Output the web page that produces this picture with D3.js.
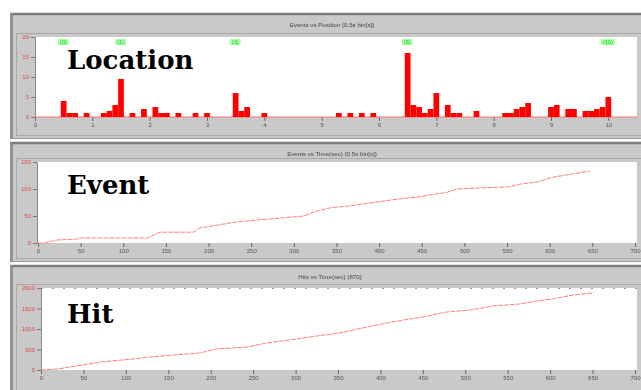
<!DOCTYPE html>
<html>
<head>
<meta charset="utf-8">
<script src="https://cdn.jsdelivr.net/npm/d3@7"></script>
<style>
  body { margin: 0; background: #fff; }
  svg { display: block; }
</style>
</head>
<body>
<svg id="chart" width="641" height="390"></svg>
<script>
// position histogram (bin centre, count)
const posBins = [0.5, 0.6, 0.7, 0.9, 1.2, 1.3, 1.4, 1.5, 1.7, 1.9, 2.1, 2.2, 2.3, 2.5, 2.8, 3.0,
  3.5, 3.6, 3.7, 4.0, 5.3, 5.5, 5.7, 5.9, 6.5, 6.6, 6.7, 6.8, 6.9, 7.0, 7.2, 7.3, 7.4, 7.7,
  8.2, 8.3, 8.4, 8.5, 8.6, 9.0, 9.1, 9.3, 9.4, 9.6, 9.7, 9.8, 9.9, 10.0];
const posCounts = [4, 1, 1, 1, 1, 1.5, 3, 9.5, 1, 2, 2.5, 1, 1, 1, 1, 1,
  6, 1.5, 2.5, 1, 1, 1, 1, 1, 16, 3, 2.5, 1, 2, 6, 3, 1, 1, 1.5,
  1, 1, 2, 2.5, 3.5, 2.5, 3, 2, 2, 1.5, 1.5, 2, 2.5, 5];
const posTicks = [0, 1, 2, 3, 4, 5, 6, 7, 8, 9, 10];
const posTicksY = [0, 5, 10, 15, 20];
const peakPos = [0.5, 1.5, 3.5, 6.5, 10];
const peakLabels = ["(0)", "(1)", "(3)", "(6)", "(10)"];

// cumulative events vs time
const eventTimes = [0, 8, 22, 46, 49, 128, 143, 182, 190, 210, 233, 260, 284, 311, 327, 342, 366,
  389, 416, 444, 460, 480, 491, 518, 553, 565, 585, 604, 627, 647];
const eventCounts = [0, 0, 5.5, 7.4, 9.3, 9.3, 20, 20, 28, 33, 39, 43, 46, 50, 59, 65, 69,
  74, 80, 85, 89, 94, 100, 102, 104, 109, 113, 122, 128, 133];

// cumulative hits vs time
const hitTimes = [0, 19, 42, 70, 108, 128, 156, 187, 207, 243, 266, 293, 325, 352, 368, 396,
  408, 427, 450, 478, 506, 533, 564, 585, 603, 627, 651];
const hitCounts = [0, 24, 98, 195, 268, 317, 366, 415, 512, 561, 659, 732, 830, 903, 976, 1098,
  1147, 1220, 1293, 1415, 1464, 1562, 1610, 1684, 1732, 1830, 1879];

const timeTicks = d3.range(0, 701, 50);
const eventTicksY = [0, 50, 100, 150];
const hitTicksY = [0, 500, 1000, 1500, 2000];

const titles = ["Events vs Position (0.5s bin[s])", "Events vs Time(sec) (0.5s bin[s])", "Hits vs Time(sec) (870)"];
const bigLabels = ["Location", "Event", "Hit"];

const svg = d3.select("#chart");

const blur = svg.append("defs").append("filter").attr("id", "soft");
blur.append("feGaussianBlur").attr("stdDeviation", 0.45);

const panels = [
  { top: 13, bottom: 139, px0: 35, px1: 637, py0: 37, py1: 117, xr: [35, 637], xd: [0, 10.5], yd: [0, 20], xt: posTicks, yt: posTicksY },
  { top: 142, bottom: 262, px0: 37, px1: 637, py0: 162, py1: 243, xr: [38, 635], xd: [0, 700], yd: [0, 150], xt: timeTicks, yt: eventTicksY },
  { top: 265, bottom: 395, px0: 41, px1: 637, py0: 288, py1: 370, xr: [41, 635], xd: [0, 700], yd: [0, 2000], xt: timeTicks, yt: hitTicksY }
];

panels.forEach((p, i) => {
  const g = svg.append("g").attr("filter", "url(#soft)");

  // window frame
  g.append("rect").attr("x", 10).attr("y", p.top).attr("width", 640).attr("height", p.bottom - p.top)
    .attr("fill", "#c9c9c9");
  g.append("line").attr("x1", 10).attr("x2", 641).attr("y1", p.top + 1).attr("y2", p.top + 1)
    .attr("stroke", "#7d7d7d").attr("stroke-width", 2.5);
  g.append("line").attr("x1", 11.5).attr("x2", 11.5).attr("y1", p.top).attr("y2", p.bottom)
    .attr("stroke", "#8a8a8a").attr("stroke-width", 2.5);
  g.append("line").attr("x1", 10).attr("x2", 641).attr("y1", p.bottom - 0.5).attr("y2", p.bottom - 0.5)
    .attr("stroke", "#9a9a9a");
  g.append("rect").attr("x", 16.5).attr("y", p.py0 - 3.5).attr("width", 630).attr("height", p.bottom - p.py0)
    .attr("fill", "none").attr("stroke", "#a8a8a8");

  g.append("text").attr("x", (i == 2 ? 330 : 332)).attr("y", p.top + 14)
    .attr("text-anchor", "middle").attr("font-family", "Liberation Sans, Arial, sans-serif")
    .attr("font-size", 6.2).attr("fill", "#444").text(titles[i]);

  // plot area
  g.append("rect").attr("x", p.px0).attr("y", p.py0).attr("width", p.px1 - p.px0).attr("height", p.py1 - p.py0)
    .attr("fill", "#fff");

  const x = d3.scaleLinear().domain(p.xd).range(p.xr);
  const y = d3.scaleLinear().domain(p.yd).range([p.py1, p.py0]);

  const xAxis = g.append("g").attr("transform", `translate(0,${p.py1})`)
    .call(d3.axisBottom(x).tickValues(p.xt).tickFormat(d3.format("d")).tickSize(4).tickSizeOuter(0).tickPadding(2));
  xAxis.select(".domain").remove();
  xAxis.selectAll("line").attr("stroke", "#666");
  xAxis.selectAll("text").attr("font-family", "Liberation Sans, Arial, sans-serif")
    .attr("font-size", 6).attr("fill", "#555");

  const yAxis = g.append("g").attr("transform", `translate(${p.px0},0)`)
    .call(d3.axisLeft(y).tickValues(p.yt).tickFormat(d3.format("d")).tickSize(4).tickSizeOuter(0).tickPadding(2));
  yAxis.select(".domain").attr("stroke", "#888");
  yAxis.selectAll("line").attr("stroke", "#777");
  yAxis.selectAll("text").attr("font-family", "Liberation Sans, Arial, sans-serif")
    .attr("font-size", 6).attr("fill", "#e84848");

  if (i == 0) {
    // baseline
    g.append("line").attr("x1", p.px0).attr("x2", p.px1).attr("y1", y(0)).attr("y2", y(0))
      .attr("stroke", "#ff7070").attr("stroke-width", 1.2);
    const bw = x(0.1) - x(0);
    g.selectAll(".bar").data(posBins).join("rect").attr("class", "bar")
      .attr("x", d => x(d) - bw / 2).attr("width", bw)
      .attr("y", (d, k) => y(posCounts[k])).attr("height", (d, k) => y(0) - y(posCounts[k]))
      .attr("fill", "#ff0000");
    const lab = g.selectAll(".peak").data(peakPos).join("g").attr("class", "peak")
      .attr("transform", d => `translate(${x(d) - 0.5},${p.py0 + 5})`);
    lab.append("rect").attr("x", (d, k) => -peakLabels[k].length * 1.8).attr("y", -3)
      .attr("width", (d, k) => peakLabels[k].length * 3.6).attr("height", 6).attr("fill", "#a8ffa8");
    lab.append("text").attr("text-anchor", "middle").attr("dy", "0.35em")
      .attr("font-family", "Liberation Sans, Arial, sans-serif").attr("font-size", 5.5)
      .attr("fill", "#22cc22").text((d, k) => peakLabels[k]);
  } else {
    const xs = i == 1 ? eventTimes : hitTimes;
    const ys = i == 1 ? eventCounts : hitCounts;
    if (i == 2) {
      g.append("line").attr("x1", p.px0).attr("x2", p.px1).attr("y1", p.py0 + 0.5).attr("y2", p.py0 + 0.5)
        .attr("stroke", "#999").attr("stroke-dasharray", "2,9");
    }
    const line = d3.line().x((d, k) => x(xs[k])).y((d, k) => y(ys[k]));
    g.append("path").datum(xs).attr("d", line).attr("fill", "none")
      .attr("stroke", "#ff8080").attr("stroke-width", 1).attr("stroke-dasharray", "5,1");
  }

  svg.append("text").attr("x", 67).attr("y", [69, 194, 323][i])
    .attr("font-family", "DejaVu Serif, serif").attr("font-weight", "bold").attr("font-size", 26)
    .attr("fill", "#000").text(bigLabels[i]);
});
</script>
</body>
</html>
